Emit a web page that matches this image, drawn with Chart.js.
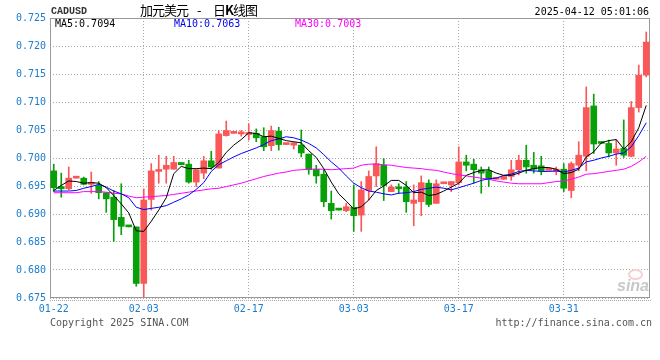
<!DOCTYPE html>
<html>
<head>
<meta charset="utf-8">
<script src="https://cdn.jsdelivr.net/npm/chart.js@4.4.0/dist/chart.umd.min.js"></script>
<style>
body { margin: 0; background: #fff; }
#wrap { position: relative; width: 660px; height: 360px; }
.t { position: absolute; white-space: nowrap; font: 10px "DejaVu Sans Mono", monospace; line-height: 12px; }
.cn { position: absolute; white-space: nowrap; font: 13px "Noto Sans CJK SC"; line-height: 15px; letter-spacing: -1px; color: #000; top: 2px; }
</style>
</head>
<body>
<div id="wrap">
  <canvas id="kChart" width="660" height="360"></canvas>
  <div class="t" style="left:51px;top:6px;font-family:'Liberation Mono';font-weight:bold;color:#333">CADUSD</div>
  <div class="cn" style="left:140px">加元美元</div>
  <div class="cn" style="left:197px">-</div>
  <div class="cn" style="left:213px">日<b>K</b>线图</div>
  <div class="t" style="right:11px;top:6px;color:#000">2025-04-12 05:01:06</div>
  <div class="t" id="ma5Txt" style="left:55px;top:18px;color:#000"></div>
  <div class="t" id="ma10Txt" style="left:174px;top:18px;color:#0000ee"></div>
  <div class="t" id="ma30Txt" style="left:295px;top:18px;color:#ff00ff"></div>
  <div style="position:absolute;left:628px;top:269px;width:15px;height:11px;border-radius:50%;border:2px solid #f6d2d2;box-sizing:border-box"></div>
  <div class="t" style="left:617px;top:278px;font:bold italic 16px 'Liberation Sans';line-height:16px;color:#c8c8c8">sina</div>
  <div class="t" style="left:50px;top:317px;color:#555">Copyright 2025 SINA.COM</div>
  <div class="t" style="right:8px;top:317px;color:#555">http://finance.sina.com.cn</div>
</div>
<script>
// daily candles, every calendar day
var dates = ['01-22','01-23','01-24','01-25','01-26','01-27','01-28','01-29','01-30','01-31',
  '02-01','02-02','02-03','02-04','02-05','02-06','02-07','02-08','02-09','02-10',
  '02-11','02-12','02-13','02-14','02-15','02-16','02-17','02-18','02-19','02-20',
  '02-21','02-22','02-23','02-24','02-25','02-26','02-27','02-28',
  '03-01','03-02','03-03','03-04','03-05','03-06','03-07','03-08','03-09','03-10',
  '03-11','03-12','03-13','03-14','03-15','03-16','03-17','03-18','03-19','03-20',
  '03-21','03-22','03-23','03-24','03-25','03-26','03-27','03-28','03-29','03-30','03-31',
  '04-01','04-02','04-03','04-04','04-05','04-06','04-07','04-08','04-09','04-10','04-11']
var tickDates = ['01-22', '02-03', '02-17', '03-03', '03-17', '03-31']

var openP = [0.6977,0.6949,0.6945,0.6964,0.6964,0.6953,0.6951,0.6938,0.6930,0.6894,
  0.6879,0.6877,0.6776,0.6926,0.6976,0.6980,0.6980,0.6992,0.6989,0.6957,
  0.6973,0.6995,0.6982,0.7040,0.7044,0.7043,0.7042,0.7044,0.7038,0.7022,
  0.7048,0.7024,0.7023,0.7023,0.7007,0.6980,0.6971,0.6919,0.6908,0.6906,
  0.6912,0.6898,0.6942,0.6968,0.6987,0.6940,0.6948,0.6948,0.6919,0.6922,
  0.6955,0.6919,0.6954,0.6952,0.6956,0.6993,0.6989,0.6979,0.6977,0.6962,
  0.6962,0.6967,0.6979,0.6996,0.6987,0.6986,0.6978,0.6976,0.6980,0.6942,
  0.6987,0.7003,0.7093,0.7027,0.7026,0.7009,0.7017,0.7003,0.7090,0.7148]
var highP = [0.6989,0.6973,0.6984,0.6964,0.6966,0.6975,0.6958,0.6938,0.6942,0.6954,
  0.6879,0.6877,0.6945,0.6990,0.7005,0.7003,0.7003,0.6992,0.6996,0.6980,
  0.7003,0.7012,0.7049,0.7066,0.7044,0.7049,0.7061,0.7052,0.7054,0.7057,
  0.7055,0.7024,0.7028,0.7050,0.7007,0.6987,0.6979,0.6941,0.6908,0.6919,
  0.6952,0.6958,0.6977,0.7020,0.6999,0.6952,0.6954,0.6958,0.6952,0.6968,
  0.6961,0.6961,0.6954,0.6958,0.7020,0.7005,0.6998,0.6984,0.6984,0.6962,
  0.6967,0.6996,0.7005,0.7023,0.7010,0.7003,0.6978,0.6984,0.6990,0.6993,
  0.7029,0.7127,0.7114,0.7027,0.7032,0.7033,0.7068,0.7101,0.7166,0.7225]
var lowP = [0.6940,0.6930,0.6943,0.6964,0.6952,0.6937,0.6927,0.6903,0.6851,0.6863,
  0.6877,0.6771,0.6752,0.6907,0.6955,0.6955,0.6980,0.6988,0.6955,0.6949,
  0.6963,0.6980,0.6982,0.7039,0.7044,0.7039,0.7032,0.7029,0.7013,0.7013,
  0.7014,0.7024,0.7016,0.7002,0.6971,0.6955,0.6913,0.6891,0.6907,0.6904,
  0.6869,0.6869,0.6925,0.6949,0.6924,0.6940,0.6937,0.6903,0.6879,0.6897,
  0.6913,0.6919,0.6954,0.6940,0.6952,0.6977,0.6955,0.6937,0.6949,0.6962,
  0.6962,0.6960,0.6970,0.6973,0.6973,0.6970,0.6978,0.6970,0.6940,0.6929,
  0.6977,0.6977,0.7008,0.7026,0.7002,0.6987,0.7001,0.7002,0.7082,0.7145]
var closeP = [0.6947,0.6945,0.6964,0.6964,0.6953,0.6955,0.6938,0.6927,0.6890,0.6878,
  0.6877,0.6776,0.6925,0.6977,0.6979,0.6987,0.6992,0.6988,0.6957,0.6979,
  0.6995,0.6984,0.7043,0.7049,0.7044,0.7045,0.7044,0.7036,0.7020,0.7049,
  0.7024,0.7024,0.7027,0.7009,0.6979,0.6968,0.6922,0.6906,0.6907,0.6913,
  0.6897,0.6943,0.6967,0.6990,0.6951,0.6948,0.6945,0.6922,0.6925,0.6956,
  0.6917,0.6954,0.6954,0.6958,0.6993,0.6987,0.6979,0.6973,0.6962,0.6962,
  0.6967,0.6979,0.6996,0.6984,0.6980,0.6977,0.6978,0.6980,0.6946,0.6990,
  0.7005,0.7090,0.7025,0.7026,0.7009,0.7016,0.7005,0.7090,0.7148,0.7207]

var ma5 = [0.6942,0.6951,0.6959,0.6958,0.6955,0.6956,0.6955,0.6947,0.6933,0.6918,
  0.6902,0.6870,0.6869,0.6887,0.6907,0.6929,0.6972,0.6985,0.6981,0.6981,
  0.6982,0.6981,0.6992,0.7010,0.7023,0.7033,0.7045,0.7044,0.7038,0.7039,
  0.7035,0.7031,0.7029,0.7027,0.7013,0.7001,0.6981,0.6957,0.6936,0.6923,
  0.6909,0.6913,0.6925,0.6942,0.6950,0.6960,0.6960,0.6951,0.6938,0.6939,
  0.6933,0.6935,0.6941,0.6948,0.6955,0.6969,0.6974,0.6978,0.6979,0.6973,
  0.6969,0.6969,0.6973,0.6978,0.6981,0.6983,0.6983,0.6980,0.6972,0.6974,
  0.6980,0.7002,0.7011,0.7027,0.7031,0.7033,0.7016,0.7029,0.7054,0.7094]
var ma10 = [0.6941,0.6941,0.6941,0.6942,0.6946,0.6949,0.6953,0.6948,0.6941,0.6936,
  0.6929,0.6912,0.6908,0.6910,0.6912,0.6915,0.6921,0.6927,0.6934,0.6944,
  0.6956,0.6976,0.6988,0.6995,0.7002,0.7008,0.7013,0.7018,0.7024,0.7031,
  0.7034,0.7038,0.7036,0.7032,0.7026,0.7018,0.7006,0.6993,0.6982,0.6968,
  0.6955,0.6947,0.6941,0.6939,0.6936,0.6934,0.6937,0.6938,0.6940,0.6944,
  0.6946,0.6948,0.6946,0.6943,0.6947,0.6951,0.6955,0.6960,0.6963,0.6964,
  0.6969,0.6971,0.6976,0.6978,0.6977,0.6976,0.6976,0.6977,0.6975,0.6978,
  0.6982,0.6993,0.6996,0.7000,0.7003,0.7007,0.7009,0.7020,0.7040,0.7063]
var ma30 = [0.6938,0.6938,0.6938,0.6938,0.6940,0.6940,0.6940,0.6939,0.6937,0.6936,
  0.6932,0.6929,0.6930,0.6931,0.6932,0.6933,0.6935,0.6937,0.6939,0.6941,
  0.6943,0.6945,0.6946,0.6949,0.6952,0.6955,0.6959,0.6963,0.6967,0.6970,
  0.6973,0.6975,0.6978,0.6979,0.6980,0.6980,0.6980,0.6979,0.6980,0.6981,
  0.6982,0.6987,0.6989,0.6989,0.6988,0.6987,0.6985,0.6983,0.6982,0.6981,
  0.6979,0.6978,0.6975,0.6972,0.6970,0.6968,0.6966,0.6964,0.6962,0.6959,
  0.6957,0.6955,0.6954,0.6954,0.6954,0.6954,0.6956,0.6958,0.6959,0.6962,
  0.6966,0.6971,0.6972,0.6974,0.6976,0.6978,0.6980,0.6985,0.6993,0.7003]

var yMin = 0.675, yMax = 0.725, yStep = 0.005
var upColor = '#fa5858', downColor = '#08a008', axisBlue = '#1c7ccc', gridGray = '#a8a8a8'

function last(arr) { return arr[arr.length - 1].toFixed(4) }
document.getElementById('ma5Txt').textContent = 'MA5:' + last(ma5)
document.getElementById('ma10Txt').textContent = 'MA10:' + last(ma10)
document.getElementById('ma30Txt').textContent = 'MA30:' + last(ma30)

// red = close above open, green = close below open
var colors = openP.map(function (o, i) { return closeP[i] >= o ? upColor : downColor })
var bodyData = openP.map(function (o, i) { return [o, closeP[i]] })
var wickData = lowP.map(function (l, i) { return [l, highP[i]] })

// solid frame round the plot plus the dotted rule just under it
var framePlugin = {
    id: 'frame',
    beforeDatasetsDraw: function (chart) {
        var a = chart.chartArea, c = chart.ctx
        c.save()
        c.strokeStyle = '#999999'
        c.lineWidth = 1
        c.strokeRect(a.left + 0.5, a.top + 0.5, a.right - a.left - 1, a.bottom - a.top - 1)
        c.strokeStyle = gridGray
        c.setLineDash([1, 1])
        c.beginPath()
        c.moveTo(a.left, a.bottom + 2.5)
        c.lineTo(a.right + 2, a.bottom + 2.5)
        c.stroke()
        c.restore()
    }
}

function maLine(label, data, color) {
    return {
        type: 'line', label: label, data: data,
        borderColor: color, borderWidth: 1, pointRadius: 0, tension: 0, order: 0
    }
}

var tickFont = { family: 'DejaVu Sans Mono', size: 10 }

new Chart(document.getElementById('kChart').getContext('2d'), {
    type: 'bar',
    data: {
        labels: dates,
        datasets: [
            maLine('MA5', ma5, '#000000'),
            maLine('MA10', ma10, '#0000ff'),
            maLine('MA30', ma30, '#ff00ff'),
            { label: 'wick', data: wickData, backgroundColor: colors, barThickness: 1, grouped: false, order: 2 },
            { label: 'body', data: bodyData, backgroundColor: colors, barThickness: 6, minBarLength: 2, grouped: false, order: 1 }
        ]
    },
    options: {
        responsive: false,
        animation: false,
        layout: { padding: { top: 18, right: 10, left: 0, bottom: 0 } },
        plugins: { legend: { display: false }, tooltip: { enabled: false } },
        scales: {
            x: {
                grid: {
                    offset: false,
                    drawTicks: false,
                    color: function (ctx) {
                        return ctx.index > 0 && tickDates.indexOf(dates[ctx.index]) >= 0 ? gridGray : 'rgba(0,0,0,0)'
                    }
                },
                border: { display: false, dash: [1, 2] },
                ticks: {
                    autoSkip: false, maxRotation: 0, minRotation: 0, padding: 5,
                    color: axisBlue, font: tickFont,
                    callback: function (v) {
                        var d = this.getLabelForValue(v)
                        return tickDates.indexOf(d) >= 0 ? d : ''
                    }
                },
                afterFit: function (s) { s.height = 62 }
            },
            y: {
                min: yMin, max: yMax,
                grid: { color: gridGray, drawTicks: false },
                border: { display: false, dash: [1, 2] },
                ticks: {
                    stepSize: yStep, padding: 4, color: axisBlue, font: tickFont,
                    callback: function (v) { return v.toFixed(3) }
                },
                afterFit: function (s) { s.width = 50 }
            }
        }
    },
    plugins: [framePlugin]
})
</script>
</body>
</html>
